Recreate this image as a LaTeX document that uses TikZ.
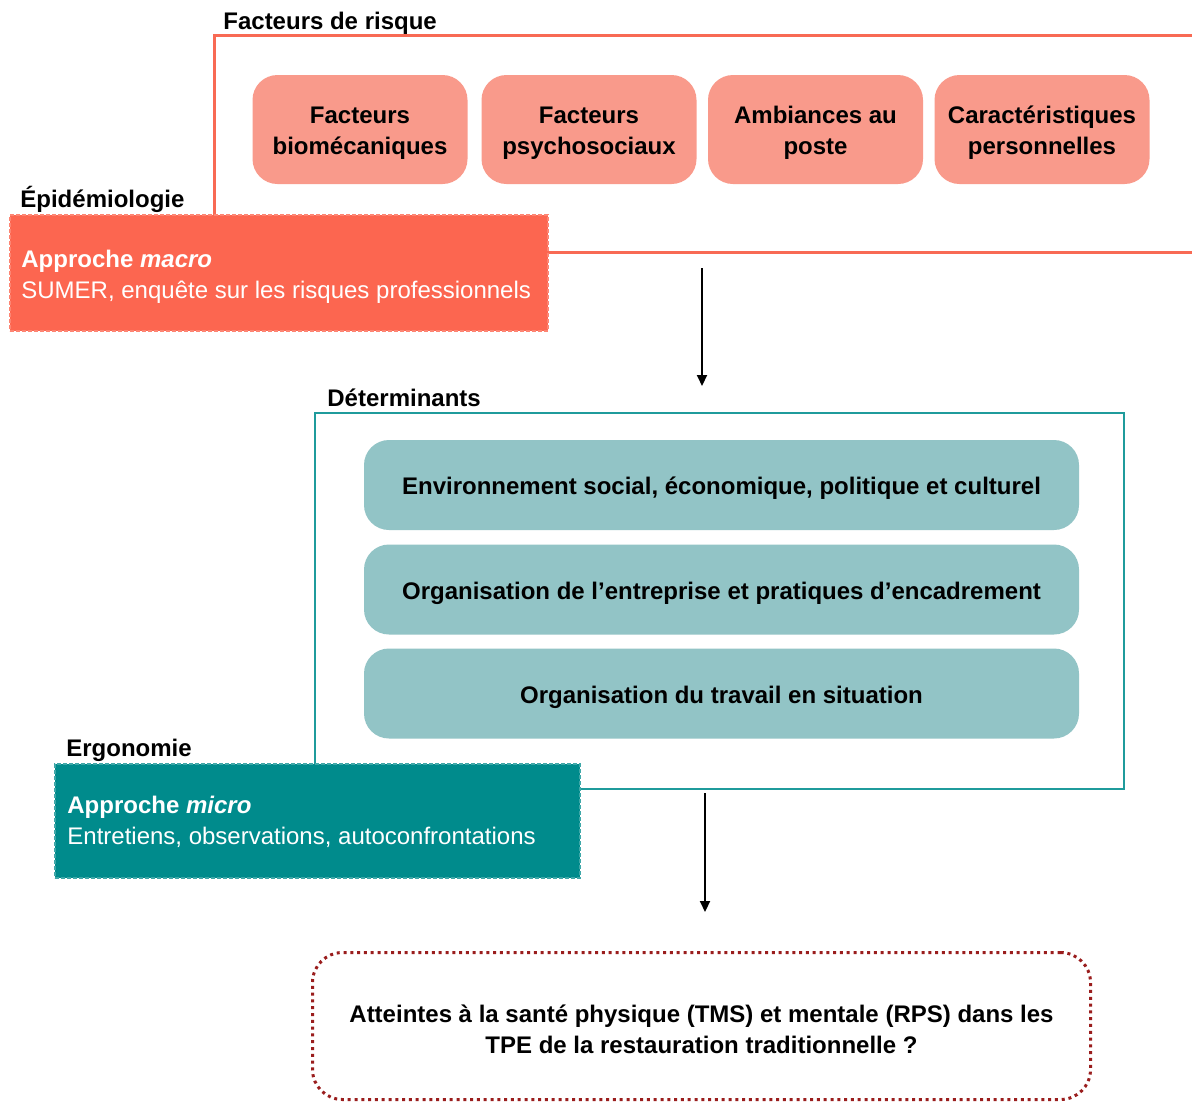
\documentclass[tikz,border=0pt]{standalone}
\usepackage{fontspec}
\setmainfont{Liberation Sans}
\usetikzlibrary{arrows.meta}
\definecolor{riskline}{HTML}{F86A54}
\definecolor{riskfill}{HTML}{FC6650}
\definecolor{pinkbox}{HTML}{F99A8B}
\definecolor{tealline}{HTML}{1F9B9C}
\definecolor{tealfill}{HTML}{008B8C}
\definecolor{tealbox}{HTML}{92C4C6}
\definecolor{dotred}{HTML}{9A1D1D}
\tikzset{
  boldtxt/.style={font=\fontsize{12}{15.5}\selectfont\bfseries, inner sep=0pt},
  heading/.style={boldtxt, anchor=base west},
  inbox/.style={boldtxt, align=center, yshift=-1.75pt},
  pinkstep/.style={fill=pinkbox, rounded corners=12.5pt,
    minimum width=107.5pt, minimum height=54.5pt, inner sep=0pt},
  tealstep/.style={fill=tealbox, rounded corners=12.5pt,
    minimum width=357.5pt, minimum height=45pt, inner sep=0pt},
  approach/.style={inner sep=0pt, line width=1pt, dash pattern=on 2pt off 1pt},
  approachtxt/.style={font=\fontsize{12}{15.5}\selectfont, text=white, align=left, anchor=west, inner sep=0pt},
  arr/.style={line width=1pt, -{Triangle[length=5.5pt,width=5pt]}},
}
\begin{document}
\begin{tikzpicture}[x=0.5pt,y=-0.5pt]
\useasboundingbox (0,0) rectangle (1192,1104);
\fill[white] (0,0) rectangle (1192,1104);

% Facteurs de risque frame
\draw[riskline, line width=1.5pt] (1192,35) -| (214,252) -- (1192,252);
\node[heading] (hrisk) at (223,29) {Facteurs de risque};

\node[pinkstep] (f1) at (360,129.5) {};
\node[pinkstep] (f2) at (589,129.5) {};
\node[pinkstep] (f3) at (815.5,129.5) {};
\node[pinkstep] (f4) at (1042,129.5) {};
\node[inbox] (f1t) at (f1.center) {Facteurs\\biomécaniques};
\node[inbox] (f2t) at (f2.center) {Facteurs\\psychosociaux};
\node[inbox] (f3t) at (f3.center) {Ambiances au\\poste};
\node[inbox] (f4t) at (f4.center) {Caractéristiques\\personnelles};

% Epidemiologie
\node[heading] (hepi) at (20,207) {Épidémiologie};
\node[approach, fill=riskfill, draw=riskfill!80!white, minimum width=269pt, minimum height=58pt] (macro) at (279,273) {};
\node[approachtxt] (macrot) at ([yshift=-2pt]macro.west -| 21,0)
  {\textbf{Approche \textit{macro}}\\SUMER, enquête sur les risques professionnels};

% arrow 1
\coordinate (a1s) at (702,268);
\coordinate (a1e) at (702,386);
\draw[arr] (a1s) -- (a1e);

% Determinants frame
\node[draw=tealline, line width=1.25pt, minimum width=404.5pt, minimum height=188pt, inner sep=0pt] (det) at (719.5,601) {};
\node[heading] (hdet) at (327,406) {Déterminants};

\node[tealstep] (d1) at (721.5,485) {};
\node[tealstep] (d2) at (721.5,589.5) {};
\node[tealstep] (d3) at (721.5,693.5) {};
\node[inbox] (d1t) at (d1.center) {Environnement social, économique, politique et culturel};
\node[inbox] (d2t) at (d2.center) {Organisation de l’entreprise et pratiques d’encadrement};
\node[inbox] (d3t) at (d3.center) {Organisation du travail en situation};

% Ergonomie
\node[heading] (herg) at (66,756) {Ergonomie};
\node[approach, fill=tealfill, draw=tealfill!75!white, minimum width=262.5pt, minimum height=57pt] (micro) at (317.5,821) {};
\node[approachtxt] (microt) at ([yshift=-0.5pt]micro.west -| 67,0)
  {\textbf{Approche \textit{micro}}\\Entretiens, observations, autoconfrontations};

% arrow 2
\coordinate (a2s) at (705,793);
\coordinate (a2e) at (705,912);
\draw[arr] (a2s) -- (a2e);

% Outcome
\node[draw=dotred, line width=1.5pt, dash pattern=on 1.5pt off 1.9pt, rounded corners=15pt,
  minimum width=389pt, minimum height=73.5pt, inner sep=0pt] (out) at (701.5,1026) {};
\node[inbox] (outt) at (out.center)
  {Atteintes à la santé physique (TMS) et mentale (RPS) dans les\\TPE de la restauration traditionnelle ?};
\end{tikzpicture}
\end{document}
